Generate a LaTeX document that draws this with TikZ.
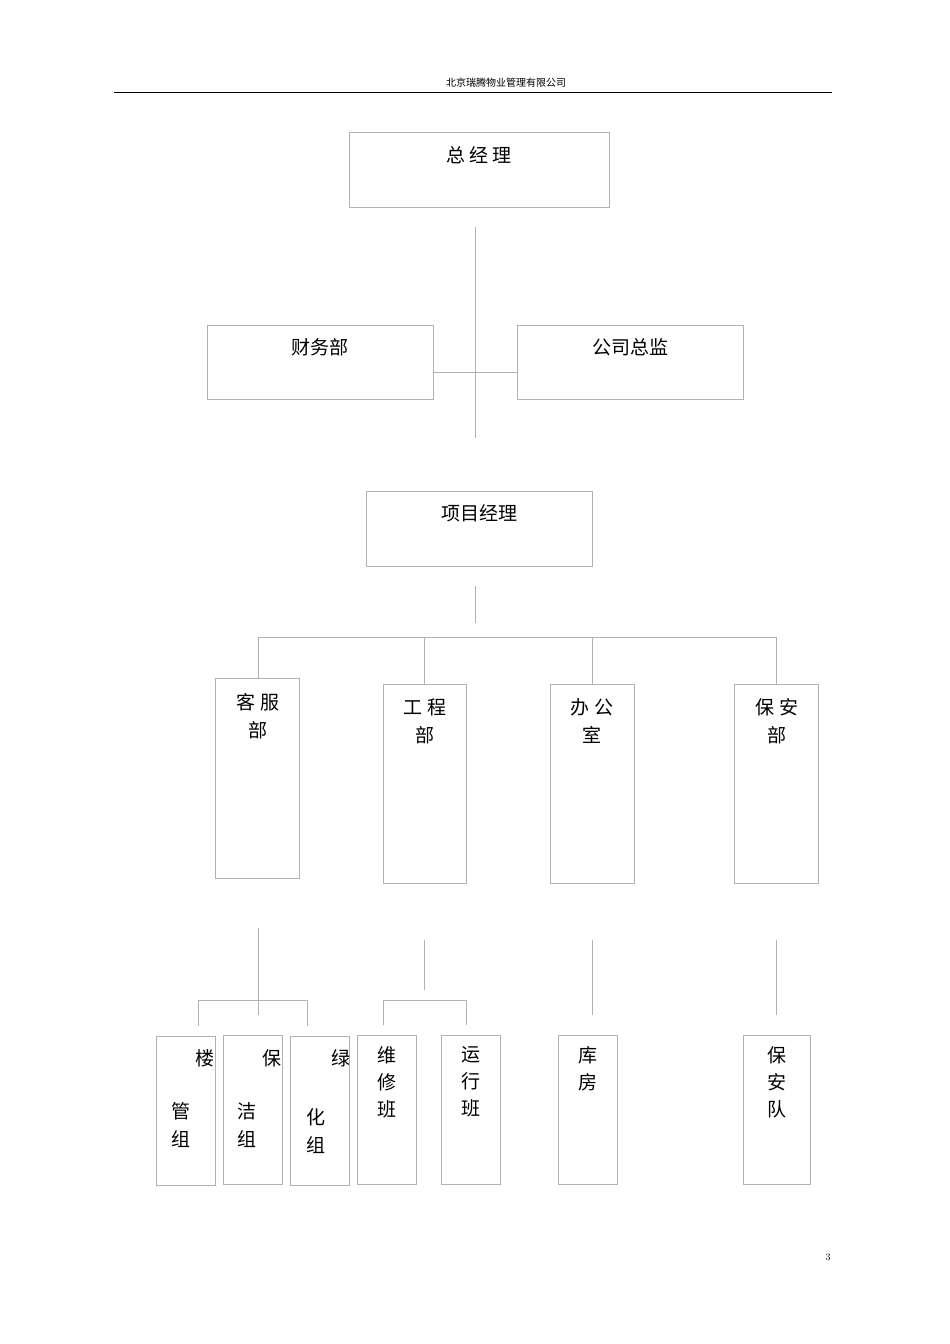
\documentclass[tikz,border=0pt]{standalone}
\usepackage{fontspec}
\newfontfamily\cjk{Noto Sans CJK SC}
\begin{document}
\begin{tikzpicture}[x=1pt,y=-1pt,
  bx/.style={draw=black!30,line width=0.8pt},
  ln/.style={draw=black!30,line width=0.8pt},
  tx/.style={font=\cjk\fontsize{19}{19}\selectfont,inner sep=0pt,anchor=center},
  lt/.style={font=\cjk\fontsize{19}{27}\selectfont,inner sep=0pt,align=center}]
\useasboundingbox (0,0) rectangle (950,1344);
\node[font=\cjk\fontsize{10}{10}\selectfont] (hdr) at (506,83) {北京瑞腾物业管理有限公司};
\draw[black,line width=0.8pt] (114,92) coordinate (hl) -- (832,92) coordinate (hr);
\node[font=\fontsize{10}{10}\selectfont] (pg) at (828,1257) {3};
% boxes
\newcommand\bxx[5]{\draw[bx] (#2,#3) rectangle (#4,#5); \coordinate (#1) at ({(#2+#4)/2},{(#3+#5)/2});}
\bxx{gm}{349}{132}{609}{207}
\bxx{cw}{207}{325}{433}{399}
\bxx{zj}{517}{325}{743}{399}
\bxx{pm}{366}{491}{592}{566}
\bxx{kf}{215}{678}{299}{878}
\bxx{gc}{383}{684}{466}{883}
\bxx{bg}{550}{684}{634}{883}
\bxx{ba}{734}{684}{818}{883}
\bxx{lg}{156}{1036}{215}{1185}
\bxx{bj}{223}{1035}{282}{1184}
\bxx{lh}{290}{1036}{349}{1185}
\bxx{wx}{357}{1035}{416}{1184}
\bxx{yx}{441}{1035}{500}{1184}
\bxx{kfang}{558}{1035}{617}{1184}
\bxx{bad}{743}{1035}{810}{1184}
% texts
\node[tx] (t1) at (479,155) {总\ 经\ 理};
\node[tx] (t2) at (320,347) {财务部};
\node[tx] (t3) at (630,347) {公司总监};
\node[tx] (t4) at (479,513) {项目经理};
\node[tx] at (258,702) {客\ 服}; \node[tx] at (258,730) {部};
\node[tx] at (425,707) {工\ 程}; \node[tx] at (425,735) {部};
\node[tx] at (592,707) {办\ 公}; \node[tx] at (592,735) {室};
\node[tx] at (777,707) {保\ 安}; \node[tx] at (777,735) {部};
\node[tx] at (205,1058) {楼}; \node[tx] at (181,1111) {管}; \node[tx] at (181,1139) {组};
\node[tx] at (272,1058) {保}; \node[tx] at (247,1111) {洁}; \node[tx] at (247,1139) {组};
\node[tx] at (341,1058) {绿}; \node[tx] at (316,1117) {化}; \node[tx] at (316,1145) {组};
\node[lt,anchor=north] at (387,1046) {维\\修\\班};
\node[lt,anchor=north] at (471,1046) {运\\行\\班};
\node[lt,anchor=north] at (588,1046) {库\\房};
\node[lt,anchor=north] at (777,1046) {保\\安\\队};
% connectors
\draw[ln] (475,227) -- (475,438);
\draw[ln] (433,372) -- (517,372);
\draw[ln] (475,586) -- (475,623);
\draw[ln] (258,678) -- (258,637) -- (776,637) -- (776,684);
\draw[ln] (424,637) -- (424,684);
\draw[ln] (592,637) -- (592,684);
\draw[ln] (258,928) -- (258,1015);
\draw[ln] (198,1026) -- (198,1000) -- (307,1000) -- (307,1026);
\draw[ln] (424,940) -- (424,990);
\draw[ln] (383,1025) -- (383,1000) -- (466,1000) -- (466,1025);
\draw[ln] (592,940) -- (592,1015);
\draw[ln] (776,940) -- (776,1015);
\end{tikzpicture}
\end{document}
